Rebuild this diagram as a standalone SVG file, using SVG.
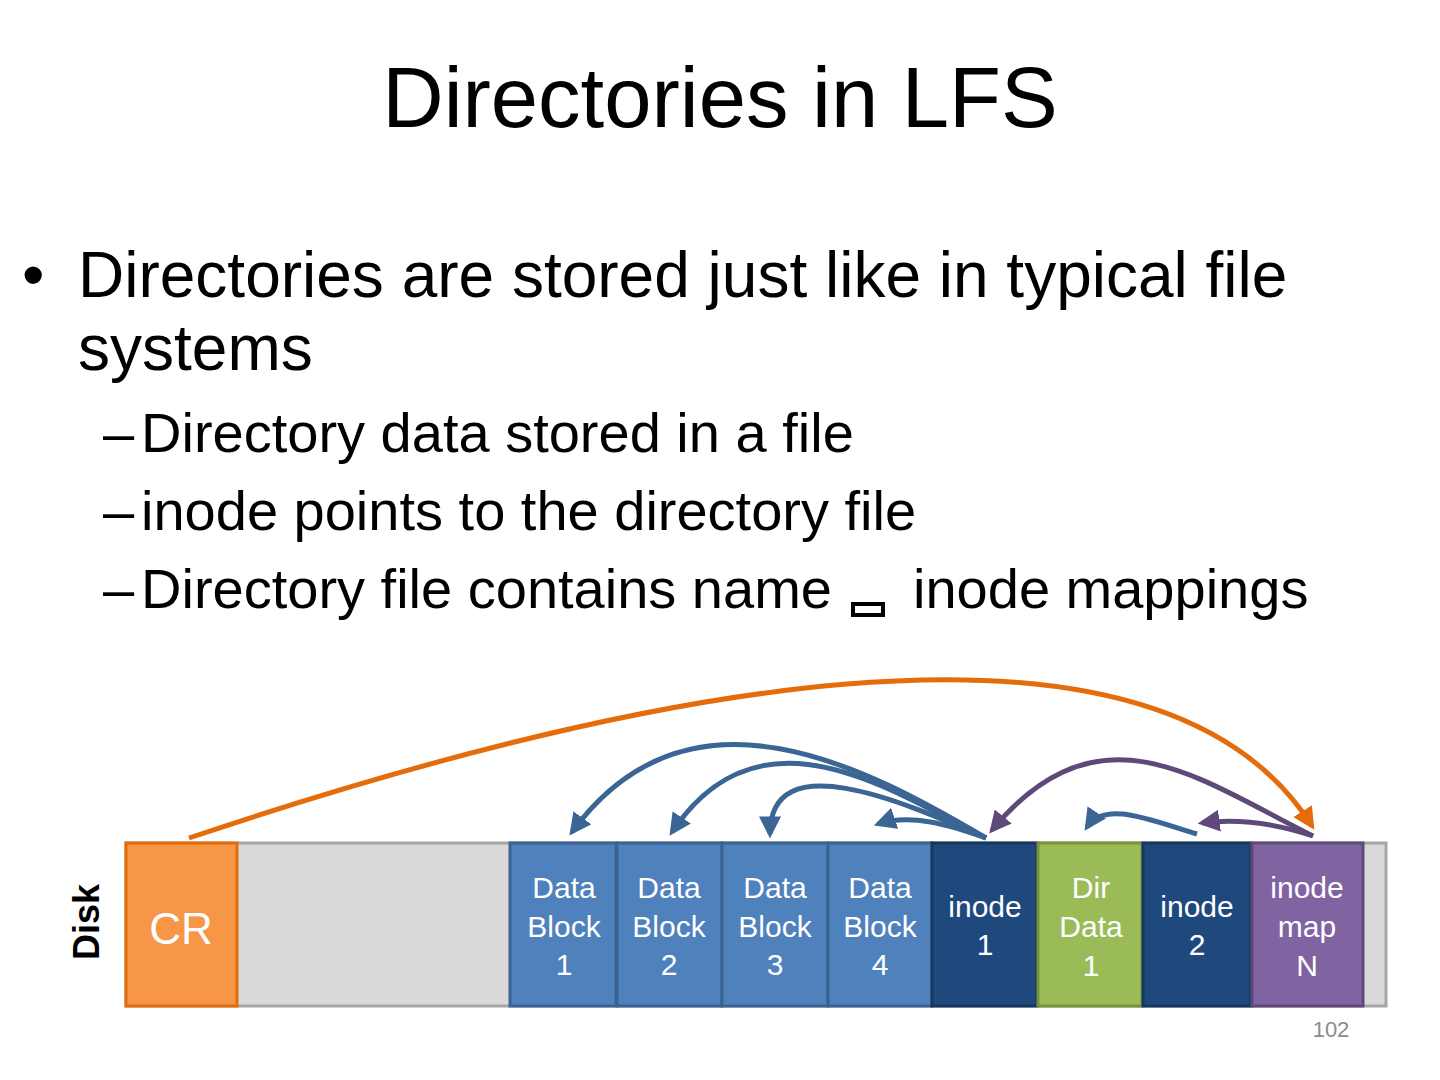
<svg xmlns="http://www.w3.org/2000/svg" width="1440" height="1080" viewBox="0 0 1440 1080">
<style>
text{font-family:"Liberation Sans",Arial,sans-serif;}
.title{font-size:85px;fill:#000;}
.b1{font-size:64px;fill:#000;}
.b2{font-size:56px;fill:#000;}
.lbl{font-size:30px;fill:#fff;text-anchor:middle;}
.blue{fill:#4f81bd;stroke:#3a6394;stroke-width:3;}
.dark{fill:#1f497d;stroke:#17375e;stroke-width:3;}
.ob{fill:none;stroke-width:5;}
</style>
<defs>
<marker id="ah-o" viewBox="0 0 10 10" refX="8" refY="5" markerWidth="4.4" markerHeight="4.4" orient="auto" markerUnits="strokeWidth"><path d="M0,0 L10,5 L0,10 z" fill="#e46c0a"/></marker>
<marker id="ah-b" viewBox="0 0 10 10" refX="8" refY="5" markerWidth="4.4" markerHeight="4.4" orient="auto" markerUnits="strokeWidth"><path d="M0,0 L10,5 L0,10 z" fill="#3a6595"/></marker>
<marker id="ah-p" viewBox="0 0 10 10" refX="8" refY="5" markerWidth="4.4" markerHeight="4.4" orient="auto" markerUnits="strokeWidth"><path d="M0,0 L10,5 L0,10 z" fill="#5f497a"/></marker>
</defs>
<rect width="1440" height="1080" fill="#fff"/>
<text class="title" x="720" y="127" text-anchor="middle">Directories in LFS</text>
<text class="b1" x="22" y="297">•</text>
<text class="b1" x="78" y="297">Directories are stored just like in typical file</text>
<text class="b1" x="78" y="370">systems</text>
<text class="b2" x="103" y="452">–</text>
<text class="b2" x="141" y="452">Directory data stored in a file</text>
<text class="b2" x="103" y="530">–</text>
<text class="b2" x="141" y="530">inode points to the directory file</text>
<text class="b2" x="103" y="608">–</text>
<text class="b2" x="141" y="608">Directory file contains name</text>
<rect x="853" y="604" width="30" height="11" fill="none" stroke="#000" stroke-width="4"/>
<text class="b2" x="913" y="608">inode mappings</text>
<text x="99" y="922" transform="rotate(-90 99 922)" text-anchor="middle" style="font-size:36px;font-weight:bold;fill:#000">Disk</text>
<g id="disk"><rect x="126" y="843" width="1260" height="163" fill="#d9d9d9" stroke="#a6a6a6" stroke-width="3"/></g>
<g id="cr"><rect x="126" y="843" width="111" height="163" fill="#f79646" stroke="#e46c0a" stroke-width="3"/><text x="181" y="944" text-anchor="middle" style="font-size:44px;fill:#fff">CR</text></g>
<g id="db1"><rect class="blue" x="510" y="843" width="106" height="163"/><text class="lbl" x="564" y="898">Data</text><text class="lbl" x="564" y="937">Block</text><text class="lbl" x="564" y="975">1</text></g>
<g id="db2"><rect class="blue" x="617" y="843" width="105" height="163"/><text class="lbl" x="669" y="898">Data</text><text class="lbl" x="669" y="937">Block</text><text class="lbl" x="669" y="975">2</text></g>
<g id="db3"><rect class="blue" x="722" y="843" width="106" height="163"/><text class="lbl" x="775" y="898">Data</text><text class="lbl" x="775" y="937">Block</text><text class="lbl" x="775" y="975">3</text></g>
<g id="db4"><rect class="blue" x="828" y="843" width="104" height="163"/><text class="lbl" x="880" y="898">Data</text><text class="lbl" x="880" y="937">Block</text><text class="lbl" x="880" y="975">4</text></g>
<g id="inode1"><rect class="dark" x="932" y="843" width="105" height="163"/><text class="lbl" x="985" y="917">inode</text><text class="lbl" x="985" y="955">1</text></g>
<g id="dirdata1"><rect x="1038" y="843" width="104" height="163" fill="#9bbb59" stroke="#77933c" stroke-width="3"/><text class="lbl" x="1091" y="898">Dir</text><text class="lbl" x="1091" y="937">Data</text><text class="lbl" x="1091" y="976">1</text></g>
<g id="inode2"><rect class="dark" x="1143" y="843" width="108" height="163"/><text class="lbl" x="1197" y="917">inode</text><text class="lbl" x="1197" y="955">2</text></g>
<g id="imap"><rect x="1252" y="843" width="111" height="163" fill="#8064a2" stroke="#5f497a" stroke-width="3"/><text class="lbl" x="1307" y="898">inode</text><text class="lbl" x="1307" y="937">map</text><text class="lbl" x="1307" y="976">N</text></g>
<g id="connectors">
<path class="ob" stroke="#e46c0a" marker-end="url(#ah-o)" d="M189,838 C600,700 1150,570 1312,826"/>
<path class="ob" stroke="#3a6595" marker-end="url(#ah-b)" d="M986,838 C870,770 690,670 572,832"/>
<path class="ob" stroke="#3a6595" marker-end="url(#ah-b)" d="M986,838 C890,790 760,700 672,832"/>
<path class="ob" stroke="#3a6595" marker-end="url(#ah-b)" d="M986,838 C900,800 770,745 770,834"/>
<path class="ob" stroke="#3a6595" marker-end="url(#ah-b)" d="M986,838 C950,825 910,813 878,824"/>
<path class="ob" stroke="#3a6595" marker-end="url(#ah-b)" d="M1197,834 C1150,820 1105,800 1087,827"/>
<path class="ob" stroke="#5f497a" marker-end="url(#ah-p)" d="M1313,836 C1200,780 1100,700 992,830"/>
<path class="ob" stroke="#5f497a" marker-end="url(#ah-p)" d="M1313,836 C1280,825 1240,818 1202,823"/>
</g>
<text x="1331" y="1037" text-anchor="middle" style="font-size:22px;fill:#8c8c8c">102</text>
</svg>
